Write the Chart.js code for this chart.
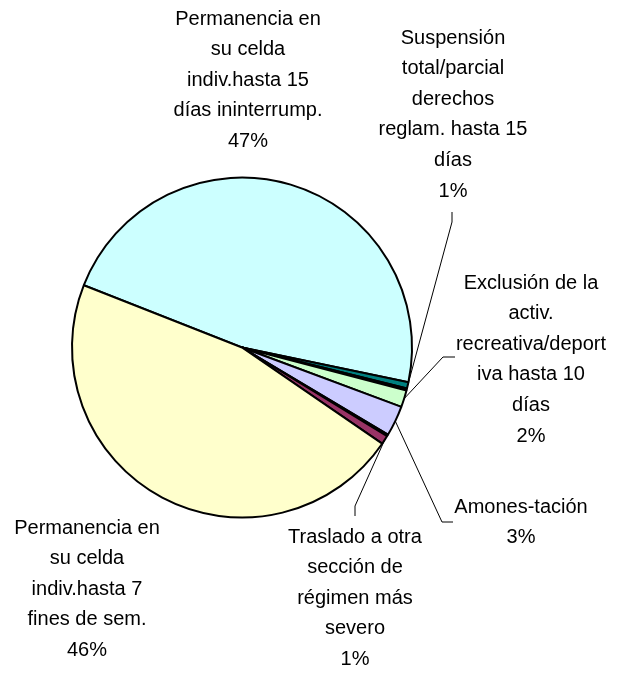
<!DOCTYPE html>
<html>
<head>
<meta charset="utf-8">
<script src="https://cdn.jsdelivr.net/npm/chart.js@4"></script>
<style>
    body { margin: 0; background: #fff; }
    #wrap { width: 620px; height: 674px; }
</style>
</head>
<body>
<div id="wrap"><canvas id="sancionesChart" width="620" height="674"></canvas></div>
<script>
// Datos (sentido horario, empezando por el sector celeste)
const categorias = [
    ['Permanencia en', 'su celda', 'indiv.hasta 15', 'días ininterrump.'],
    ['Suspensión', 'total/parcial', 'derechos', 'reglam. hasta 15', 'días'],
    [],
    ['Exclusión de la', 'activ.', 'recreativa/deport', 'iva hasta 10', 'días'],
    ['Amones-tación'],
    [],
    ['Traslado a otra', 'sección de', 'régimen más', 'severo'],
    ['Permanencia en', 'su celda', 'indiv.hasta 7', 'fines de sem.']
];
const porcentajes = [47.3, 0.6, 0.2, 1.6, 2.9, 0.15, 0.85, 46.4];
const colores = ['#CCFFFF', '#008080', '#FF8080', '#CCFFCC', '#CCCCFF', '#0066CC', '#993366', '#FFFFCC'];

// Posición de las etiquetas y codos de las líneas guía
const posEtiquetas = {
    0: { x: 248, y: 19 },
    1: { x: 453, y: 38, guia: [[452, 222], [452, 212]] },
    3: { x: 531, y: 283, guia: [[443, 357], [455, 357]] },
    4: { x: 521, y: 507, guia: [[442, 522], [453, 522]] },
    6: { x: 355, y: 537, guia: [[355, 506], [355, 516]] },
    7: { x: 87, y: 528 }
};
const altoLinea = 30.6;

const etiquetasPlugin = {
    id: 'etiquetas',
    afterDatasetsDraw(chart) {
        const ctx = chart.ctx;
        const arcos = chart.getDatasetMeta(0).data;
        const total = porcentajes.reduce((a, b) => a + b, 0);
        ctx.save();
        Object.keys(posEtiquetas).forEach(k => {
            const i = Number(k);
            const pos = posEtiquetas[i];
            const arc = arcos[i];
            const p = arc.getProps(['x', 'y', 'startAngle', 'endAngle', 'outerRadius'], true);
            if (pos.guia) {
                const mid = (p.startAngle + p.endAngle) / 2;
                ctx.beginPath();
                ctx.moveTo(p.x + Math.cos(mid) * p.outerRadius, p.y + Math.sin(mid) * p.outerRadius);
                pos.guia.forEach(pt => ctx.lineTo(pt[0], pt[1]));
                ctx.strokeStyle = '#000';
                ctx.lineWidth = 1;
                ctx.stroke();
            }
            const lineas = categorias[i].concat([Math.round(porcentajes[i] / total * 100) + '%']);
            ctx.fillStyle = '#000';
            ctx.font = '20px "Liberation Sans", Arial, sans-serif';
            ctx.textAlign = 'center';
            ctx.textBaseline = 'middle';
            lineas.forEach((t, j) => ctx.fillText(t, pos.x, pos.y + j * altoLinea));
        });
        ctx.restore();
    }
};

new Chart(document.getElementById('sancionesChart').getContext('2d'), {
    type: 'pie',
    data: {
        labels: categorias.map(c => c.join(' ')),
        datasets: [{
            data: porcentajes,
            backgroundColor: colores,
            borderColor: '#000',
            borderWidth: 2
        }]
    },
    options: {
        responsive: false,
        animation: false,
        rotation: 291.5,
        layout: { padding: { left: 71, right: 207, top: 176.5, bottom: 155.5 } },
        plugins: {
            legend: { display: false },
            tooltip: { enabled: false }
        }
    },
    plugins: [etiquetasPlugin]
});
</script>
</body>
</html>
